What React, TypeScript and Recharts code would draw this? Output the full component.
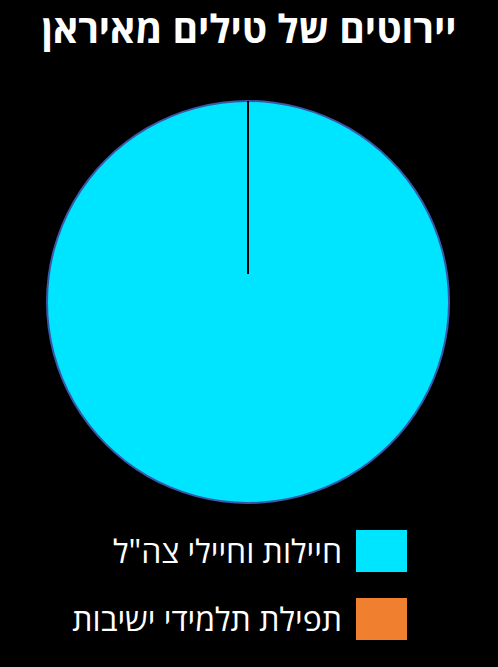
import React from 'react';
import { PieChart, Pie, Cell, Legend } from 'recharts';

const categories = ['חיילות וחיילי צה"ל', 'תפילת תלמידי ישיבות'];
const values = [100, 0];
const colors = ['#00E5FF', '#F08030'];
const title = 'יירוטים של טילים מאיראן';

const data = categories.map((name, i) => ({ name, value: values[i], color: colors[i] }));
const ringData = [{ name: 'ring', value: 1 }];
const RADIAN = Math.PI / 180;

const SeamLabel = (props: any) => {
  const { cx, cy, midAngle, innerRadius, outerRadius, index } = props;
  if (index !== 1) return null;
  const x1 = cx + innerRadius * Math.cos(-midAngle * RADIAN);
  const y1 = cy + innerRadius * Math.sin(-midAngle * RADIAN);
  const x2 = cx + outerRadius * Math.cos(-midAngle * RADIAN);
  const y2 = cy + outerRadius * Math.sin(-midAngle * RADIAN);
  return <line x1={x1} y1={y1} x2={x2} y2={y2} stroke="#000" strokeWidth={2} />;
};

const LegendContent = (props: any) => {
  const payload = (props.payload || []).filter((p: any) => p.type !== 'none' && categories.includes(p.value));
  const seen = new Set<string>();
  const items = payload.filter((p: any) => (seen.has(p.value) ? false : (seen.add(p.value), true)));
  return (
    <div style={{ width: 498, direction: 'rtl', boxSizing: 'border-box', paddingRight: 91 }}>
      {items.map((p: any, i: number) => (
        <div key={i} style={{ display: 'flex', alignItems: 'center', height: 42, marginBottom: 26 }}>
          <div style={{ width: 51, height: 42, background: p.color, flex: 'none' }} />
          <span style={{ marginRight: 14, color: '#fff', fontSize: 32, lineHeight: '42px', fontFamily: 'Open Sans, sans-serif', whiteSpace: 'nowrap' }}>{p.value}</span>
        </div>
      ))}
    </div>
  );
};

export default function App() {
  return (
    <div style={{ position: 'fixed', left: 0, top: 0, width: 498, height: 667, background: '#000', overflow: 'hidden' }}>
      <div style={{ position: 'absolute', top: 0, left: 0, width: 498, textAlign: 'center', color: '#fff', fontSize: 39, lineHeight: '56px', fontWeight: 'bold', fontFamily: 'Open Sans, sans-serif', direction: 'rtl' }}>
        {title}
      </div>
      <PieChart width={498} height={667} margin={{ top: 0, right: 0, bottom: 0, left: 0 }}>
        <Pie data={data} dataKey="value" nameKey="name" cx={248} cy={302} outerRadius={201} startAngle={90} endAngle={-270} stroke="none" isAnimationActive={false}>
          {data.map((d, i) => <Cell key={i} fill={d.color} />)}
        </Pie>
        <Pie data={ringData} dataKey="value" cx={248} cy={302} innerRadius={200} outerRadius={202} startAngle={90} endAngle={-270} fill="#3a58a8" stroke="none" legendType="none" isAnimationActive={false} />
        <Pie data={data} dataKey="value" cx={248} cy={302} innerRadius={28} outerRadius={201} startAngle={90} endAngle={-270} fill="none" stroke="none" legendType="none" label={<SeamLabel />} labelLine={false} isAnimationActive={false}>
          {data.map((d, i) => <Cell key={i} fill="none" stroke="none" />)}
        </Pie>
        <Legend content={<LegendContent />} wrapperStyle={{ position: 'absolute', top: 530, left: 0, width: 498 }} />
      </PieChart>
    </div>
  );
}
